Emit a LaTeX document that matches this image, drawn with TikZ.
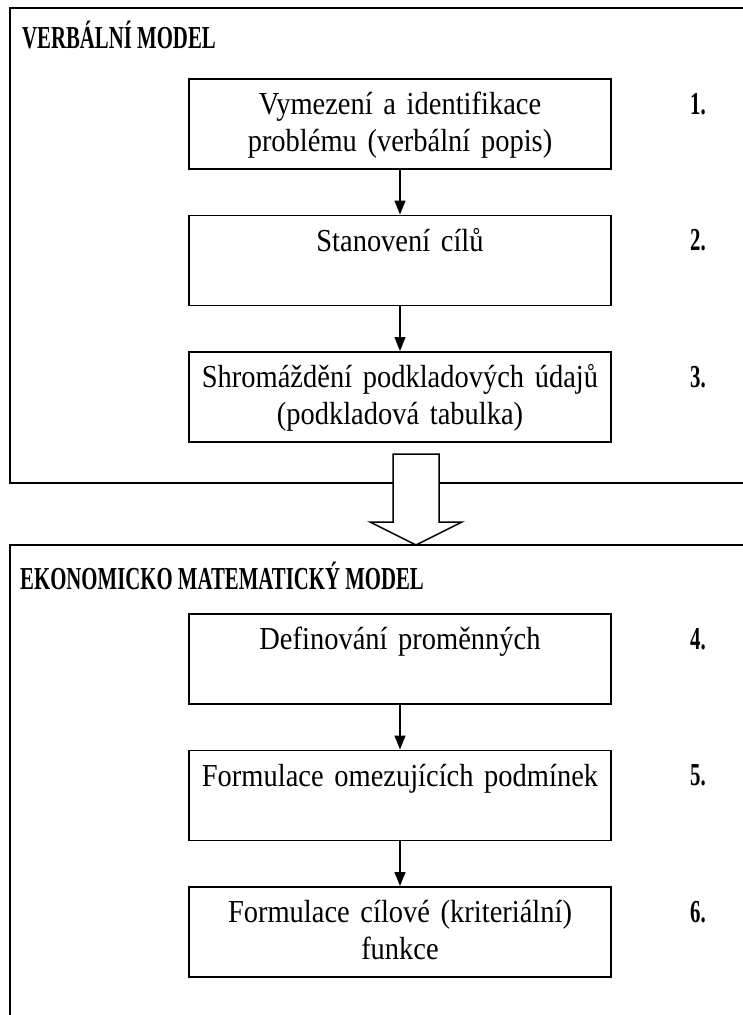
\documentclass[tikz,border=0pt]{standalone}
\usepackage{fontspec}
\setmainfont{Liberation Serif}[FakeStretch=0.89]
\newfontfamily\headfont{Liberation Serif}[FakeStretch=0.65]
\usetikzlibrary{arrows.meta,positioning}
\tikzset{
  >={Triangle[width=11pt,length=14pt]},
  font=\fontsize{32pt}{37pt}\selectfont,
  frame/.style  ={draw, line width=2pt},
  stepbox/.style={draw, line width=1.5pt, minimum width=422pt, text width=404pt, align=center, text height=25pt, text depth=43pt, inner ysep=11pt, anchor=north},
  head/.style   ={font=\headfont\fontsize{32pt}{37pt}\selectfont\bfseries, anchor=base west, inner sep=0pt},
  num/.style    ={font=\headfont\fontsize{32pt}{37pt}\selectfont\bfseries, anchor=base west, inner sep=0pt},
  arr/.style    ={->, line width=1.2pt},
  bigarr/.style ={draw, line width=1.5pt, fill=white},
}

\begin{document}
\begin{tikzpicture}[x=1pt, y=-1pt, node distance=45pt]
  \useasboundingbox (0,0) rectangle (743,1015);
  \clip (0,0) rectangle (743,1015);

  % outer frames
  \draw[frame] (10,8) rectangle (780,483);
  \draw[frame] (10,545) rectangle (780,1100);
  \node[head] (verb) at (22,48) {VERBÁLNÍ MODEL};
  \node[head] (ekon) at (20,589) {EKONOMICKO MATEMATICKÝ MODEL};

  % steps
  \node[stepbox] (a) at (400,78) {Vymezení a identifikace\\problému (verbální popis)};
  \node[stepbox, below=of a] (b) {Stanovení cílů};
  \node[stepbox, below=of b] (c) {Shromáždění podkladových údajů\\(podkladová tabulka)};
  \node[stepbox] (d) at (400,613) {Definování proměnných};
  \node[stepbox, below=of d] (e) {Formulace omezujících podmínek};
  \node[stepbox, below=of e] (f) {Formulace cílové (kriteriální)\\funkce};

  \foreach \b/\n in {a/1,b/2,c/3,d/4,e/5,f/6}
    \node[num] (n\n) at ([xshift=290pt,yshift=-36pt]\b.north) {\n.};

  \draw[arr] (a) -- (b);
  \draw[arr] (b) -- (c);
  \draw[arr] (d) -- (e);
  \draw[arr] (e) -- (f);

  % block arrow between the two models
  \coordinate (tip) at (416,545);
  \draw[bigarr] (393,454) -- (439,454) -- (439,522) -- (462,522) -- (tip) -- (370,522) -- (393,522) -- cycle;
\end{tikzpicture}
\end{document}
